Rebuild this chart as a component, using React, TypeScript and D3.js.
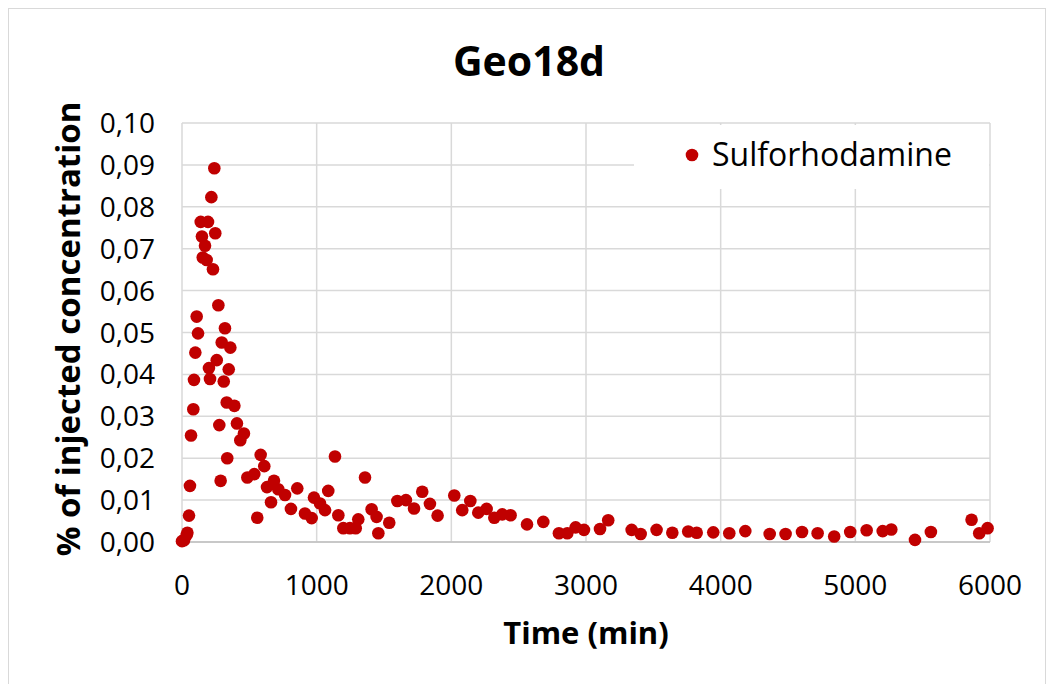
import React from "react";
import * as d3 from "d3";

const timeMin: number[] = [
  0, 15, 35, 40, 52, 59, 67, 84, 89, 99, 109, 119, 139, 148, 154, 171, 183, 193, 200, 208,
  218, 230, 240, 247, 258, 270, 277, 287, 295, 310, 319, 332, 336, 347, 359, 389, 408, 433, 460, 485,
  537, 559, 584, 611, 631, 661, 683, 715, 765, 809, 856, 913, 963, 980, 1025, 1062, 1086, 1136, 1161, 1198,
  1247, 1290, 1309, 1359, 1408, 1445, 1458, 1539, 1599, 1663, 1723, 1784, 1841, 1898, 2022, 2081, 2141, 2200, 2262, 2319,
  2378, 2440, 2562, 2683, 2799, 2861, 2923, 2985, 3104, 3165, 3339, 3406, 3524, 3641, 3759, 3822, 3945, 4064, 4183, 4364,
  4482, 4604, 4720, 4843, 4962, 5084, 5203, 5267, 5443, 5561, 5863, 5920, 5982,
];

const concentration: number[] = [
  0.0002, 0.0004, 0.0017, 0.0022, 0.0063, 0.0134, 0.0254, 0.0317, 0.0387, 0.0452, 0.0538, 0.0498, 0.0764, 0.0729, 0.0679, 0.0707, 0.0673, 0.0764, 0.0415, 0.0389,
  0.0823, 0.0651, 0.0892, 0.0737, 0.0434, 0.0565, 0.0279, 0.0146, 0.0476, 0.0383, 0.0510, 0.0333, 0.0200, 0.0412, 0.0464, 0.0325, 0.0283, 0.0243, 0.0259, 0.0154,
  0.0162, 0.0058, 0.0208, 0.0181, 0.0131, 0.0095, 0.0146, 0.0126, 0.0112, 0.0079, 0.0128, 0.0068, 0.0057, 0.0106, 0.0092, 0.0076, 0.0122, 0.0204, 0.0064, 0.0033,
  0.0033, 0.0033, 0.0054, 0.0154, 0.0078, 0.0060, 0.0021, 0.0046, 0.0098, 0.0100, 0.0080, 0.0120, 0.0091, 0.0063, 0.0111, 0.0076, 0.0098, 0.0070, 0.0079, 0.0058,
  0.0066, 0.0064, 0.0042, 0.0048, 0.0021, 0.0021, 0.0035, 0.0029, 0.0031, 0.0052, 0.0029, 0.0019, 0.0029, 0.0022, 0.0025, 0.0022, 0.0023, 0.0021, 0.0026, 0.0019,
  0.0019, 0.0024, 0.0021, 0.0013, 0.0024, 0.0028, 0.0026, 0.0030, 0.0005, 0.0024, 0.0053, 0.0021, 0.0033,
];

const xTicks: number[] = [0, 1000, 2000, 3000, 4000, 5000, 6000];
const yTicks: number[] = [0, 0.01, 0.02, 0.03, 0.04, 0.05, 0.06, 0.07, 0.08, 0.09, 0.1];

const title = "Geo18d";
const seriesName = "Sulforhodamine";
const xTitle = "Time (min)";
const yTitle = "% of injected concentration";

const W = 1055;
const H = 684;
const plot = { left: 182, right: 990, top: 123, bottom: 542 };
const RED = "#C00000";
const FONT = "'Open Sans', 'Liberation Sans', sans-serif";

export default function App() {
  const x = d3.scaleLinear().domain([0, 6000]).range([plot.left, plot.right]);
  const y = d3.scaleLinear().domain([0, 0.1]).range([plot.bottom, plot.top]);
  const fmtY = (v: number) => d3.format(".2f")(v).replace(".", ",");

  return (
    <svg
      width={W}
      height={H}
      style={{ position: "absolute", left: 0, top: 0, background: "#fff" }}
    >
      <rect x={0} y={0} width={W} height={H} fill="#fff" />
      <rect x={8.5} y={8.5} width={1037} height={700} fill="#fff" stroke="#d9d9d9" strokeWidth={1} />
      {/* gridlines */}
      {yTicks.map((t) => (
        <line key={"gy" + t} x1={plot.left} x2={plot.right} y1={y(t)} y2={y(t)} stroke="#d9d9d9" strokeWidth={1.5} />
      ))}
      {xTicks.map((t) => (
        <line key={"gx" + t} x1={x(t)} x2={x(t)} y1={plot.top} y2={plot.bottom} stroke="#d9d9d9" strokeWidth={1.5} />
      ))}
      {/* legend box */}
      <rect x={634} y={125} width={355} height={64} fill="#fff" />
      <circle cx={692} cy={155} r={6.3} fill={RED} />
      <text x={712} y={166} fontFamily={FONT} fontSize={32} fill="#000">{seriesName}</text>
      {/* axis lines */}
      <line x1={plot.left} x2={plot.right} y1={plot.bottom} y2={plot.bottom} stroke="#bfbfbf" strokeWidth={1.5} />
      {/* tick labels */}
      {yTicks.map((t) => (
        <text key={"ty" + t} x={155} y={y(t) + 10} textAnchor="end" fontFamily={FONT} fontSize={28} fill="#000">
          {fmtY(t)}
        </text>
      ))}
      {xTicks.map((t) => (
        <text key={"tx" + t} x={x(t)} y={595} textAnchor="middle" fontFamily={FONT} fontSize={28} fill="#000">
          {t}
        </text>
      ))}
      {/* points */}
      {timeMin.map((t, i) => (
        <circle key={"p" + i} cx={x(t)} cy={y(concentration[i])} r={6.3} fill={RED} />
      ))}
      {/* titles */}
      <text x={529} y={76} textAnchor="middle" fontFamily={FONT} fontWeight="bold" fontSize={41} fill="#000">
        {title}
      </text>
      <text x={586} y={644} textAnchor="middle" fontFamily={FONT} fontWeight="bold" fontSize={31} fill="#000">
        {xTitle}
      </text>
      <text
        transform={`translate(80, 329) rotate(-90)`}
        textAnchor="middle"
        fontFamily={FONT}
        fontWeight="bold"
        fontSize={33}
        fill="#000"
      >
        {yTitle}
      </text>
    </svg>
  );
}
